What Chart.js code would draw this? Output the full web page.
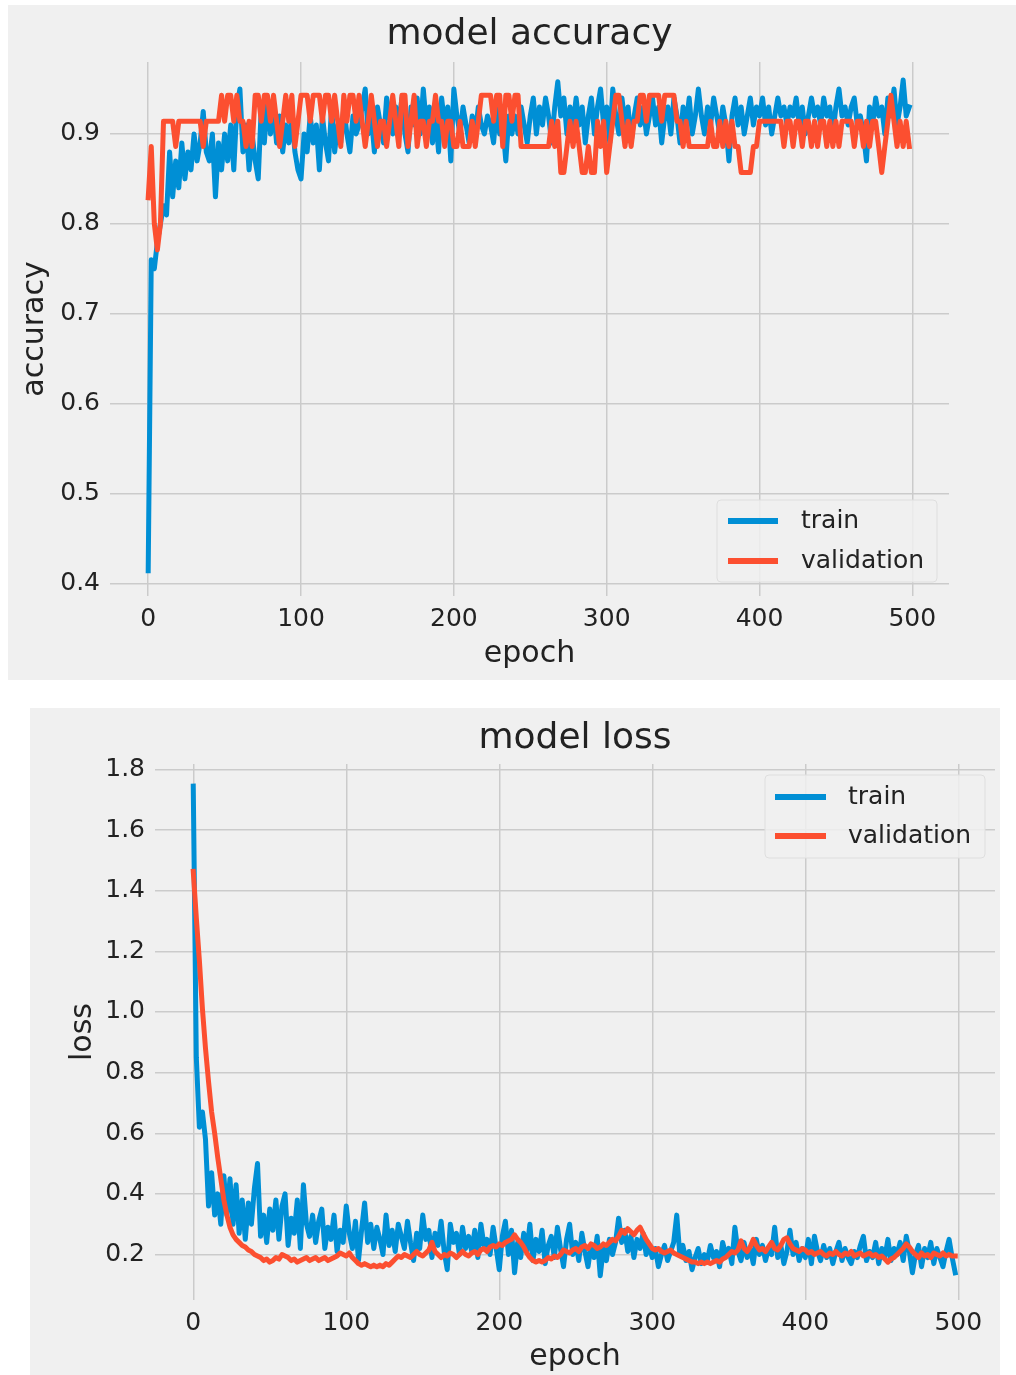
<!DOCTYPE html>
<html><head><meta charset="utf-8">
<script src="https://cdn.jsdelivr.net/npm/chart.js@4.4.1/dist/chart.umd.min.js"></script>
<style>
html,body{margin:0;padding:0;background:#fff;}
#p1{position:absolute;left:8px;top:5px;width:1008px;height:675px;background:#f0f0f0;}
#p2{position:absolute;left:30px;top:708px;width:970px;height:667px;background:#f0f0f0;}
canvas{display:block;}
</style></head><body>
<div id="p1"><canvas id="c1" width="1008" height="675"></canvas></div>
<div id="p2"><canvas id="c2" width="970" height="667"></canvas></div>
<script>
// epochs sampled every 2 epochs (0..498)
const epochs = Array.from({length:250},(_,i)=>i*2);
const xTicks = [0,100,200,300,400,500];
const accTicks = [0.4,0.5,0.6,0.7,0.8,0.9];
const lossTicks = [0.2,0.4,0.6,0.8,1.0,1.2,1.4,1.6,1.8];
const seriesNames = ['train','validation'];

const trainAcc = [
0.414,0.76,0.75,0.78,0.80,0.82,0.81,0.88,0.83,0.87,
0.84,0.89,0.85,0.88,0.86,0.90,0.87,0.89,0.925,0.88,
0.87,0.90,0.83,0.89,0.86,0.90,0.87,0.91,0.86,0.93,
0.95,0.88,0.91,0.86,0.90,0.87,0.85,0.93,0.89,0.94,
0.90,0.93,0.89,0.92,0.88,0.91,0.89,0.92,0.88,0.86,
0.85,0.90,0.88,0.92,0.89,0.91,0.86,0.92,0.89,0.87,
0.93,0.88,0.91,0.89,0.93,0.90,0.88,0.92,0.90,0.91,
0.93,0.95,0.90,0.92,0.88,0.93,0.91,0.89,0.94,0.92,
0.90,0.93,0.91,0.94,0.90,0.88,0.93,0.91,0.94,0.90,
0.95,0.91,0.93,0.89,0.92,0.88,0.94,0.91,0.93,0.87,
0.95,0.92,0.90,0.93,0.91,0.89,0.92,0.90,0.93,0.91,
0.90,0.92,0.91,0.89,0.93,0.90,0.91,0.87,0.92,0.90,
0.92,0.90,0.93,0.91,0.89,0.92,0.94,0.90,0.93,0.91,
0.94,0.92,0.89,0.93,0.958,0.92,0.94,0.90,0.93,0.91,
0.94,0.91,0.93,0.89,0.92,0.94,0.90,0.93,0.95,0.91,
0.93,0.89,0.95,0.92,0.90,0.94,0.91,0.93,0.89,0.92,
0.94,0.91,0.93,0.90,0.92,0.94,0.91,0.93,0.89,0.92,
0.93,0.90,0.94,0.92,0.89,0.93,0.91,0.94,0.90,0.92,
0.95,0.92,0.90,0.93,0.91,0.94,0.92,0.90,0.93,0.91,
0.87,0.92,0.94,0.91,0.93,0.90,0.92,0.94,0.91,0.93,
0.92,0.94,0.91,0.93,0.90,0.92,0.94,0.92,0.93,0.91,
0.93,0.92,0.94,0.91,0.93,0.90,0.92,0.94,0.92,0.93,
0.91,0.94,0.92,0.93,0.90,0.93,0.95,0.92,0.93,0.91,
0.93,0.94,0.91,0.92,0.90,0.87,0.93,0.91,0.94,0.92,
0.93,0.90,0.94,0.92,0.95,0.91,0.93,0.96,0.92,0.93
];

const valAcc = [
0.829,0.886,0.800,0.771,0.800,0.914,0.914,0.914,0.914,0.886,
0.914,0.914,0.914,0.914,0.914,0.914,0.914,0.914,0.886,0.914,
0.914,0.914,0.914,0.914,0.943,0.914,0.943,0.943,0.914,0.943,
0.914,0.914,0.886,0.914,0.886,0.943,0.943,0.914,0.943,0.943,
0.914,0.943,0.914,0.886,0.914,0.943,0.914,0.943,0.886,0.914,
0.943,0.943,0.943,0.914,0.943,0.943,0.943,0.914,0.943,0.943,
0.914,0.943,0.914,0.886,0.943,0.914,0.943,0.943,0.914,0.943,
0.914,0.886,0.914,0.943,0.914,0.886,0.914,0.914,0.886,0.914,
0.943,0.914,0.886,0.943,0.943,0.886,0.914,0.943,0.886,0.914,
0.914,0.886,0.914,0.914,0.943,0.914,0.914,0.886,0.914,0.914,
0.886,0.886,0.914,0.886,0.886,0.886,0.914,0.886,0.914,0.943,
0.943,0.943,0.943,0.914,0.943,0.943,0.886,0.943,0.943,0.914,
0.943,0.943,0.886,0.886,0.886,0.886,0.886,0.886,0.886,0.886,
0.886,0.886,0.914,0.886,0.914,0.857,0.857,0.886,0.914,0.886,
0.914,0.886,0.857,0.857,0.886,0.857,0.857,0.914,0.886,0.914,
0.857,0.886,0.914,0.943,0.943,0.914,0.886,0.914,0.886,0.914,
0.914,0.943,0.943,0.914,0.943,0.943,0.943,0.943,0.914,0.943,
0.943,0.943,0.943,0.914,0.914,0.886,0.914,0.886,0.886,0.886,
0.886,0.886,0.886,0.886,0.914,0.886,0.886,0.914,0.886,0.914,
0.886,0.914,0.886,0.886,0.857,0.857,0.857,0.857,0.886,0.886,
0.914,0.914,0.914,0.914,0.914,0.914,0.914,0.914,0.886,0.914,
0.914,0.886,0.914,0.914,0.886,0.914,0.914,0.886,0.914,0.886,
0.914,0.914,0.886,0.914,0.886,0.914,0.886,0.914,0.914,0.914,
0.914,0.886,0.914,0.914,0.886,0.914,0.886,0.914,0.914,0.886,
0.857,0.886,0.914,0.943,0.914,0.886,0.914,0.886,0.914,0.886
];

const trainLoss = [
1.745,0.85,0.62,0.67,0.58,0.36,0.47,0.33,0.40,0.30,
0.46,0.33,0.45,0.30,0.43,0.27,0.38,0.25,0.37,0.30,
0.42,0.50,0.26,0.33,0.24,0.35,0.28,0.38,0.25,0.36,
0.40,0.23,0.32,0.27,0.38,0.22,0.43,0.30,0.26,0.33,
0.24,0.31,0.35,0.22,0.29,0.25,0.33,0.21,0.28,0.24,
0.36,0.27,0.22,0.31,0.18,0.28,0.37,0.24,0.30,0.22,
0.29,0.25,0.20,0.33,0.23,0.28,0.21,0.30,0.26,0.22,
0.31,0.24,0.18,0.27,0.22,0.33,0.25,0.28,0.19,0.27,
0.23,0.31,0.21,0.15,0.30,0.24,0.27,0.20,0.29,0.22,
0.26,0.21,0.28,0.19,0.30,0.23,0.25,0.20,0.29,0.22,
0.15,0.26,0.31,0.20,0.28,0.14,0.24,0.19,0.27,0.21,
0.30,0.18,0.25,0.21,0.28,0.17,0.23,0.26,0.19,0.29,
0.22,0.16,0.25,0.30,0.20,0.24,0.18,0.27,0.21,0.16,
0.23,0.19,0.26,0.13,0.22,0.18,0.25,0.20,0.24,0.32,
0.24,0.28,0.21,0.26,0.19,0.25,0.22,0.27,0.20,0.23,
0.19,0.22,0.16,0.20,0.23,0.18,0.21,0.24,0.33,0.20,
0.23,0.18,0.21,0.15,0.19,0.22,0.17,0.20,0.18,0.23,
0.19,0.21,0.16,0.24,0.20,0.22,0.17,0.29,0.21,0.18,
0.24,0.19,0.22,0.17,0.25,0.20,0.23,0.18,0.22,0.20,
0.29,0.19,0.23,0.17,0.21,0.28,0.20,0.24,0.18,0.22,
0.19,0.25,0.17,0.26,0.21,0.18,0.23,0.19,0.22,0.17,
0.21,0.24,0.18,0.22,0.19,0.17,0.21,0.19,0.23,0.26,
0.18,0.21,0.19,0.24,0.17,0.22,0.19,0.25,0.18,0.22,
0.20,0.24,0.18,0.26,0.21,0.14,0.20,0.23,0.16,0.22,
0.19,0.24,0.17,0.22,0.19,0.16,0.21,0.25,0.19,0.14
];

const valLoss = [
1.464,1.31,1.17,1.01,0.88,0.77,0.67,0.60,0.52,0.45,
0.38,0.33,0.29,0.265,0.25,0.24,0.23,0.225,0.215,0.21,
0.20,0.195,0.19,0.18,0.185,0.175,0.18,0.19,0.185,0.20,
0.195,0.19,0.18,0.185,0.175,0.18,0.185,0.19,0.18,0.185,
0.19,0.18,0.185,0.19,0.18,0.185,0.19,0.195,0.205,0.20,
0.195,0.205,0.19,0.18,0.17,0.165,0.17,0.165,0.16,0.165,
0.16,0.165,0.16,0.17,0.165,0.175,0.185,0.195,0.19,0.20,
0.195,0.19,0.20,0.21,0.20,0.195,0.205,0.215,0.24,0.21,
0.20,0.19,0.20,0.195,0.205,0.20,0.19,0.20,0.21,0.20,
0.195,0.205,0.21,0.20,0.215,0.22,0.21,0.225,0.23,0.225,
0.235,0.23,0.24,0.245,0.25,0.265,0.25,0.24,0.225,0.205,
0.19,0.18,0.175,0.18,0.175,0.18,0.19,0.185,0.195,0.19,
0.20,0.215,0.21,0.205,0.215,0.22,0.21,0.225,0.23,0.22,
0.235,0.23,0.22,0.225,0.235,0.23,0.24,0.25,0.245,0.26,
0.28,0.27,0.285,0.275,0.265,0.28,0.29,0.27,0.25,0.235,
0.22,0.215,0.22,0.21,0.205,0.21,0.215,0.205,0.20,0.195,
0.19,0.185,0.18,0.175,0.175,0.17,0.175,0.17,0.175,0.17,
0.175,0.18,0.175,0.185,0.19,0.20,0.21,0.205,0.215,0.245,
0.22,0.21,0.225,0.25,0.23,0.215,0.22,0.21,0.225,0.24,
0.22,0.215,0.23,0.25,0.255,0.235,0.22,0.215,0.21,0.22,
0.215,0.205,0.21,0.20,0.205,0.21,0.20,0.195,0.205,0.20,
0.21,0.20,0.195,0.205,0.20,0.21,0.195,0.20,0.205,0.195,
0.20,0.205,0.195,0.20,0.19,0.195,0.185,0.175,0.185,0.19,
0.20,0.21,0.22,0.235,0.225,0.21,0.20,0.19,0.205,0.195,
0.20,0.19,0.205,0.20,0.195,0.205,0.195,0.20,0.195,0.195
];

const BLUE = '#008fd5', RED = '#fc4f30';
const FONT = '"DejaVu Sans", "Liberation Sans", sans-serif';

const panelTitle = {
  id: 'panelTitle',
  afterDraw(chart, args, o) {
    const {ctx, chartArea: a} = chart;
    ctx.save();
    ctx.font = o.size + 'px ' + FONT;
    ctx.fillStyle = '#222';
    ctx.textAlign = 'center';
    ctx.textBaseline = 'middle';
    ctx.fillText(o.text, (a.left + a.right) / 2, o.y);
    ctx.restore();
  }
};

const insideLegend = {
  id: 'insideLegend',
  afterDatasetsDraw(chart, args, o) {
    const {ctx, chartArea: a} = chart;
    const x = a.right - o.dx - o.w;
    const y = o.corner === 'bottom' ? a.bottom - o.dy - o.h : a.top + o.dy;
    ctx.save();
    ctx.beginPath();
    ctx.roundRect(x, y, o.w, o.h, 4);
    ctx.fillStyle = 'rgba(240,240,240,0.85)';
    ctx.fill();
    ctx.strokeStyle = '#dedede';
    ctx.lineWidth = 1;
    ctx.stroke();
    const ds = chart.data.datasets.slice().sort((p, q) => p.legendIndex - q.legendIndex);
    ds.forEach((d, i) => {
      const ly = y + o.row0 + i * o.gap;
      ctx.beginPath();
      ctx.strokeStyle = d.borderColor;
      ctx.lineWidth = 6;
      ctx.lineCap = 'butt';
      ctx.moveTo(x + o.l0, ly);
      ctx.lineTo(x + o.l1, ly);
      ctx.stroke();
      ctx.fillStyle = '#222';
      ctx.font = '25px ' + FONT;
      ctx.textAlign = 'left';
      ctx.textBaseline = 'middle';
      ctx.fillText(d.label, x + o.tx, ly);
    });
    ctx.restore();
  }
};

function makeChart(id, cfg) {
  const ds = (vals, color, name, idx, order) => ({
    label: name,
    legendIndex: idx,
    order: order,
    data: epochs.map((e, i) => ({x: e, y: vals[i]})),
    borderColor: color,
    backgroundColor: color,
    borderWidth: 5,
    pointRadius: 0,
    tension: 0,
    borderJoinStyle: 'round',
    borderCapStyle: 'square',
    fill: false
  });
  return new Chart(document.getElementById(id), {
    type: 'line',
    data: {
      datasets: [
        ds(cfg.train, BLUE, seriesNames[0], 0, 2),
        ds(cfg.val, RED, seriesNames[1], 1, 1)
      ]
    },
    options: {
      responsive: false,
      animation: false,
      events: [],
      layout: {padding: cfg.pad},
      plugins: {
        legend: {display: false},
        tooltip: {enabled: false},
        title: {display: false},
        panelTitle: cfg.title,
        insideLegend: cfg.legend
      },
      scales: {
        x: {
          type: 'linear',
          min: -25, max: 524,
          afterBuildTicks: s => { s.ticks = xTicks.map(v => ({value: v})); },
          afterFit: s => { s.height = cfg.xH; s.paddingLeft = 0; s.paddingRight = 0; },
          grid: {color: '#cbcbcb', lineWidth: 1.5, drawTicks: false},
          border: {display: false},
          ticks: {color: '#222', font: {family: FONT, size: 25}, padding: cfg.xTickPad, maxRotation: 0,
                  callback: v => String(v)},
          title: {display: true, text: 'epoch', color: '#222', font: {family: FONT, size: 30},
                  padding: {top: 0, bottom: cfg.xTitlePad}}
        },
        y: {
          type: 'linear',
          min: cfg.yMin, max: cfg.yMax,
          afterBuildTicks: s => { s.ticks = cfg.yTicks.map(v => ({value: v})); },
          afterFit: s => { s.width = cfg.yW; s.paddingTop = 0; s.paddingBottom = 0; },
          grid: {color: '#cbcbcb', lineWidth: 1.5, drawTicks: false},
          border: {display: false},
          ticks: {color: '#222', font: {family: FONT, size: 25}, padding: 10,
                  callback: v => Number(v).toFixed(1)},
          title: {display: true, text: cfg.yLabel, color: '#222', font: {family: FONT, size: 30},
                  padding: {top: cfg.yTitlePad, bottom: 0}}
        }
      }
    },
    plugins: [panelTitle, insideLegend]
  });
}

makeChart('c1', {
  train: trainAcc, val: valAcc,
  pad: {top: 57, right: 67, bottom: 0, left: 0},
  xH: 84, yW: 102, xTickPad: 8, xTitlePad: 8, yTitlePad: 9,
  yMin: 0.386, yMax: 0.980, yTicks: accTicks, yLabel: 'accuracy',
  title: {text: 'model accuracy', size: 36, y: 30},
  legend: {corner: 'bottom', dx: 12, dy: 14, w: 220, h: 82, row0: 21, gap: 40, l0: 11, l1: 61, tx: 84}
});

makeChart('c2', {
  train: trainLoss, val: valLoss,
  pad: {top: 56, right: 5, bottom: 0, left: 0},
  xH: 75, yW: 125, xTickPad: 8, xTitlePad: 0, yTitlePad: 35,
  yMin: 0.05, yMax: 1.818, yTicks: lossTicks, yLabel: 'loss',
  title: {text: 'model loss', size: 36, y: 31},
  legend: {corner: 'top', dx: 10, dy: 11, w: 220, h: 83, row0: 22, gap: 39, l0: 10, l1: 61, tx: 83}
});
</script>
</body></html>
